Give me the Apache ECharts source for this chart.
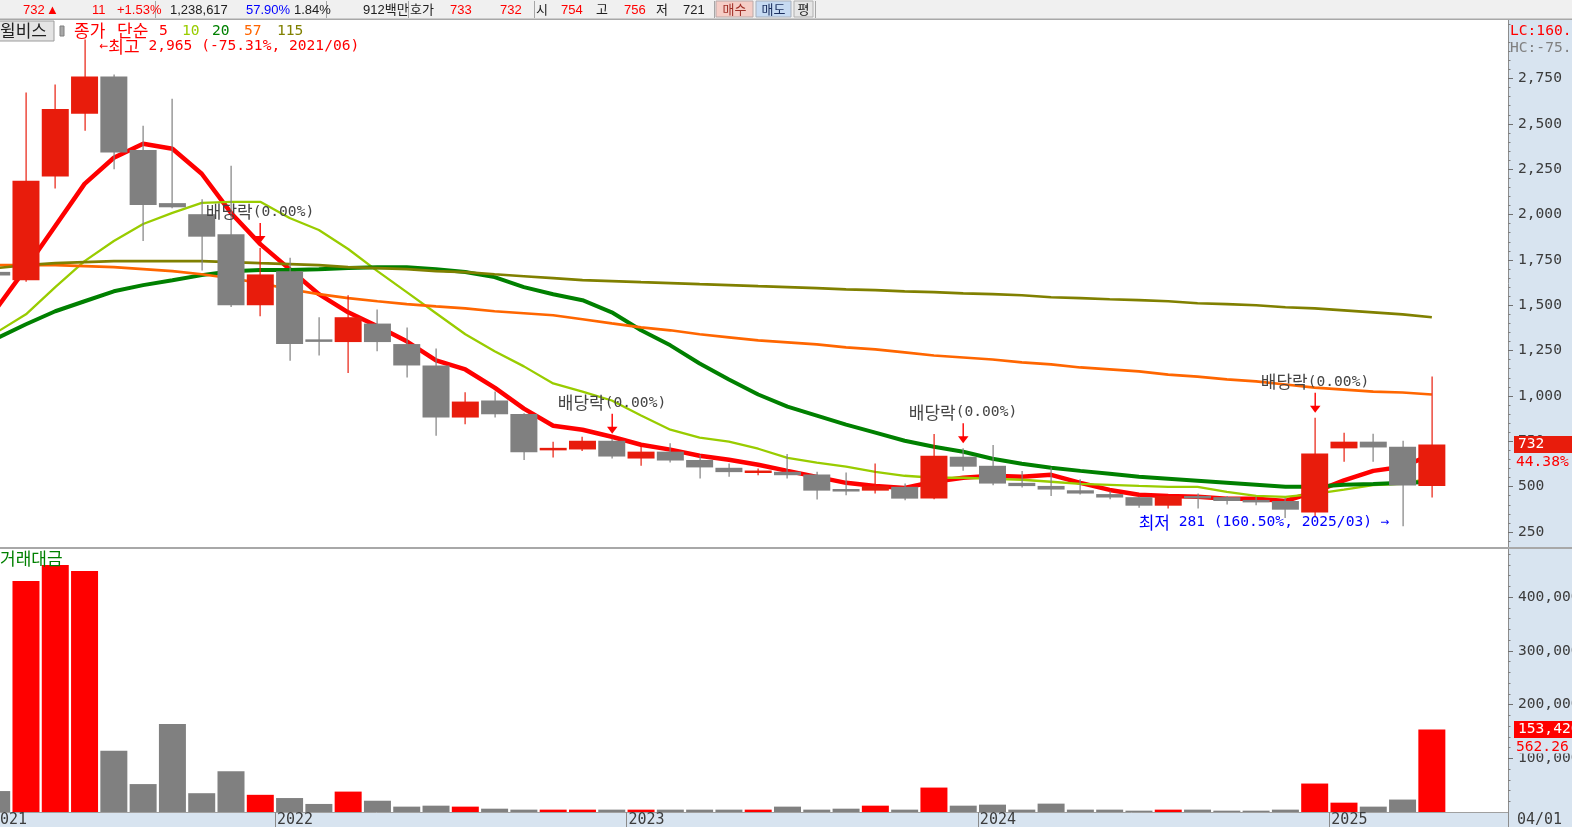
<!DOCTYPE html>
<html>
<head>
<meta charset="utf-8">
<script src="https://cdn.jsdelivr.net/npm/echarts@6.0.0/dist/echarts.min.js"></script>
<style>
html,body{margin:0;padding:0;background:#ffffff;overflow:hidden;}
#chart{width:1572px;height:827px;}
</style>
</head>
<body>
<div id="chart"></div>
<script>
// ---------------- DATA ----------------
const stockName = '윌비스';
const months = ['2021/03','2021/04','2021/05','2021/06','2021/07','2021/08','2021/09','2021/10','2021/11','2021/12',
 '2022/01','2022/02','2022/03','2022/04','2022/05','2022/06','2022/07','2022/08','2022/09','2022/10',
 '2022/11','2022/12','2023/01','2023/02','2023/03','2023/04','2023/05','2023/06','2023/07','2023/08',
 '2023/09','2023/10','2023/11','2023/12','2024/01','2024/02','2024/03','2024/04','2024/05','2024/06',
 '2024/07','2024/08','2024/09','2024/10','2024/11','2024/12','2025/01','2025/02','2025/03','2025/04'];
const openP = [1684,1638,2210,2555,2761,2356,2063,2002,1891,1500,
 1688,1310,1297,1399,1286,1168,881,975,901,705,
 705,753,655,693,647,604,578,582,567,482,
 478,499,434,665,615,521,504,480,459,442,
 395,444,442,422,421,357,711,748,720,503];
const closeP = [1664,2186,2582,2761,2342,2053,2040,1878,1500,1670,
 1286,1300,1434,1297,1168,881,969,899,689,709,
 753,666,693,644,606,580,586,563,478,478,
 503,434,670,610,517,503,484,462,440,395,
 449,440,421,418,373,683,748,716,507,732];
const highP = [1700,2673,2717,2965,2772,2490,2638,2085,2269,1816,
 1762,1434,1555,1476,1378,1261,1021,1024,905,748,
 775,764,720,739,675,628,600,680,582,578,
 628,517,790,711,730,586,606,541,475,446,
 452,462,449,444,438,880,797,792,753,1107];
const lowP = [1650,1630,2143,2462,2250,1854,2035,1692,1490,1439,
 1194,1223,1126,1246,1102,781,844,881,647,661,
 696,655,615,633,545,554,563,545,429,453,
 462,425,430,587,508,495,449,457,431,383,
 380,380,401,397,327,333,637,637,281,440];
const ma5 = [1483,1705,1937,2169,2313,2390,2363,2225,2009,1837,
 1699,1561,1461,1384,1301,1196,1146,1046,930,836,
 814,775,731,704,670,648,621,587,554,521,
 504,493,527,549,560,554,565,521,482,455,
 449,444,433,433,421,471,535,587,610,677];
const ma10 = [1351,1450,1600,1743,1854,1948,2009,2064,2070,2070,
 1981,1915,1810,1688,1572,1456,1340,1246,1163,1069,
 1024,975,892,814,770,748,709,659,632,610,
 582,560,549,549,543,538,527,515,510,504,
 499,499,471,449,444,460,483,508,515,549];
const ma20 = [1318,1395,1467,1522,1577,1611,1638,1666,1688,1694,
 1694,1699,1705,1710,1710,1699,1683,1655,1600,1561,
 1528,1461,1362,1279,1179,1091,1008,941,892,842,
 798,753,720,692,654,626,604,587,571,554,
 543,532,521,510,499,499,510,515,521,525];
const ma57 = [1721,1721,1721,1716,1710,1699,1688,1671,1649,1622,
 1588,1561,1539,1522,1506,1494,1483,1467,1456,1445,
 1423,1400,1378,1362,1340,1323,1306,1295,1284,1268,
 1257,1240,1223,1212,1201,1185,1174,1157,1146,1135,
 1118,1107,1091,1080,1063,1046,1035,1024,1019,1008];
const ma115 = [1705,1721,1732,1738,1743,1743,1743,1743,1738,1732,
 1727,1721,1710,1705,1699,1688,1683,1671,1660,1649,
 1638,1633,1627,1622,1616,1611,1605,1600,1594,1588,
 1583,1577,1572,1566,1561,1555,1544,1539,1533,1528,
 1522,1511,1506,1500,1489,1483,1472,1461,1450,1434];
const tradeValue = [39000,430000,460000,449000,114000,52000,164000,35000,76000,32000,
 26000,15000,38000,21000,10000,11800,10000,6200,4400,4400,
 4400,4400,4400,4400,4400,4400,4400,10000,4400,6200,
 11800,4400,45500,11800,13700,4400,15600,4400,4400,2500,
 4400,4400,2500,2500,4400,53000,17400,10000,23166,153420];
const priceTicks = [250,500,750,1000,1250,1500,1750,2000,2250,2500,2750];
const volumeTicks = [100000,200000,300000,400000];
const maPeriods = ['5','10','20','57','115'];
const dividendMonths = ['2021/12','2022/12','2023/12','2024/12'];
const dividendText = ['배당락','(0.00%)'];
const legendTitle = ['종가','단순'];
const volumeTitle = '거래대금';
const firstYearLabel = '2021';
const lastDateLabel = '04/01';
const toolbarTexts = ['732','▲','11','+1.53%','1,238,617','57.90%','1.84%','912백만','호가','733','732','시','754','고','756','저','721','매수','매도','평'];

// ---------------- LAYOUT / STYLE ----------------
const MONO = '"DejaVu Sans Mono", "Noto Sans CJK KR", monospace';
const KR = '"Noto Sans CJK KR", sans-serif';
const UI = '"Liberation Sans", "Noto Sans CJK KR", sans-serif';
const STRIP = '#d8e4f0';
const UPC = '#e81c0c', DNC = '#808080', VUP = '#ff0000', VDN = '#808080';
const maColors = ['#ff0000','#99cc00','#008000','#ff6600','#808000'];
const maWidths = [4.5, 2.3, 4, 2.7, 2.7];
const maSeries = [ma5, ma10, ma20, ma57, ma115];
const xMin = 0.113, xMax = 51.6;
const pMin = 167.3, pMax = 3072.5;
const vMax = 489800;
const N = months.length;
const fmt = v => Math.round(v).toLocaleString('en-US');

const yearBounds = [], yearLabels = [];
months.forEach((m, i) => { if (m.endsWith('/01')) { yearBounds.push(i - 0.5); yearLabels.push(m.slice(0, 4)); } });
const minorPrice = []; for (let v = 200; v <= 3050; v += 50) if (v % 250) minorPrice.push(v);
const minorVol = []; for (let v = 20000; v <= 480000; v += 20000) if (v % 100000) minorVol.push(v);

const lastClose = closeP[N - 1];
const iMax = highP.indexOf(Math.max(...highP));
const iMin = lowP.indexOf(Math.min(...lowP));
const hcPct = (lastClose / highP[iMax] - 1) * 100;
const lcPct = (lastClose / lowP[iMin] - 1) * 100;
const chgPct = (lastClose / closeP[N - 2] - 1) * 100;
const volPct = (tradeValue[N - 1] / tradeValue[N - 2] - 1) * 100;

function renderCandle(params, api) {
  const i = api.value(0), o = api.value(1), c = api.value(2), l = api.value(3), h = api.value(4);
  const col = c >= o ? UPC : DNC;
  const pO = api.coord([i, o]), pC = api.coord([i, c]), pL = api.coord([i, l]), pH = api.coord([i, h]);
  const x = pO[0], w = 27;
  let top = Math.min(pO[1], pC[1]), bot = Math.max(pO[1], pC[1]);
  if (bot - top < 2.5) { const m = (top + bot) / 2; top = m - 1.25; bot = m + 1.25; }
  return { type: 'group', children: [
    { type: 'rect', shape: { x: Math.round(x) - 0.5, y: pH[1], width: 1.2, height: pL[1] - pH[1] }, style: { fill: col } },
    { type: 'rect', shape: { x: x - w / 2, y: top, width: w, height: bot - top }, style: { fill: col } }
  ]};
}
function renderVolume(params, api) {
  const i = api.value(0), v = api.value(1);
  const p = api.coord([i, v]), b = api.coord([i, 0]);
  const up = closeP[i] >= openP[i];
  return { type: 'rect', shape: { x: p[0] - 13.5, y: p[1], width: 27, height: Math.max(1, b[1] - p[1]) }, style: { fill: up ? VUP : VDN } };
}
function renderDividend(params, api) {
  const p = api.coord([api.value(0), api.value(1)]);
  const x = Math.round(p[0]), y = p[1];
  return { type: 'group', children: [
    { type: 'text', x: x, y: y - 36, style: { text: '{k|' + dividendText[0] + '}{n|' + dividendText[1] + '}', align: 'center', verticalAlign: 'middle',
      rich: { k: { fontFamily: KR, fontSize: 17, fill: '#454545' }, n: { fontFamily: MONO, fontSize: 14.6, fill: '#454545' } } } },
    { type: 'rect', shape: { x: x - 0.5, y: y - 25, width: 1.4, height: 14 }, style: { fill: '#ff0000' } },
    { type: 'polygon', shape: { points: [[x - 5, y - 12], [x + 5.5, y - 12], [x + 0.2, y - 5]] }, style: { fill: '#ff0000' } }
  ]};
}
function renderExtreme(params, api) {
  const p = api.coord([api.value(0), api.value(1)]);
  const kind = api.value(2);
  if (kind === 0) {
    return { type: 'text', x: p[0] + 15, y: p[1] + 7, style: {
      text: '{n|←}{k|최고}{n| ' + fmt(highP[iMax]) + ' (' + hcPct.toFixed(2) + '%, ' + months[iMax] + ')}',
      align: 'left', verticalAlign: 'middle',
      rich: { k: { fontFamily: KR, fontSize: 17, fill: '#ff0000' }, n: { fontFamily: MONO, fontSize: 14.6, fill: '#ff0000' } } } };
  }
  return { type: 'text', x: p[0] - 13, y: p[1] - 4, style: {
    text: '{k|최저}{n| ' + fmt(lowP[iMin]) + ' (' + lcPct.toFixed(2) + '%, ' + months[iMin] + ') →}',
    align: 'right', verticalAlign: 'middle',
    rich: { k: { fontFamily: KR, fontSize: 17, fill: '#0000ff' }, n: { fontFamily: MONO, fontSize: 14.6, fill: '#0000ff' } } } };
}

const series = [];
maSeries.forEach((arr, k) => {
  series.push({ type: 'line', name: 'MA' + maPeriods[k], xAxisIndex: 0, yAxisIndex: 0, data: arr.map((v, i) => [i, v]),
    showSymbol: false, symbol: 'none', silent: true, clip: true, z: 2,
    lineStyle: { color: maColors[k], width: maWidths[k] } });
});
series.push({ type: 'custom', name: 'candle', xAxisIndex: 0, yAxisIndex: 0, clip: true, z: 3,
  data: months.map((m, i) => [i, openP[i], closeP[i], lowP[i], highP[i]]),
  encode: { x: 0, y: [1, 2, 3, 4] }, renderItem: renderCandle });
series.push({ type: 'custom', name: 'dividend', xAxisIndex: 0, yAxisIndex: 0, clip: false, z: 5,
  data: dividendMonths.map(m => { const i = months.indexOf(m); return [i, highP[i]]; }),
  encode: { x: 0, y: 1 }, renderItem: renderDividend });
series.push({ type: 'custom', name: 'extremes', xAxisIndex: 0, yAxisIndex: 0, clip: false, z: 5,
  data: [[iMax, highP[iMax], 0], [iMin, lowP[iMin], 1]],
  encode: { x: 0, y: 1 }, renderItem: renderExtreme });
series.push({ type: 'custom', name: 'tradeValue', xAxisIndex: 1, yAxisIndex: 2, clip: true, z: 3,
  data: tradeValue.map((v, i) => [i, v]), encode: { x: 0, y: 1 }, renderItem: renderVolume });

const axisLabelStyle = { color: '#3c3c3c', fontFamily: MONO, fontSize: 14.6 };
const option = {
  animation: false,
  backgroundColor: '#ffffff',
  grid: [{ left: 0, top: 20, width: 1508, height: 527, outerBoundsMode: 'none', containLabel: false },
         { left: 0, top: 549, width: 1508, height: 263, outerBoundsMode: 'none', containLabel: false }],
  xAxis: [
    { gridIndex: 0, type: 'value', min: xMin, max: xMax, show: false },
    { gridIndex: 1, type: 'value', min: xMin, max: xMax,
      axisLine: { show: true, onZero: false, lineStyle: { color: '#a0a0a0', width: 1 } },
      axisTick: { show: true, customValues: yearBounds, length: 15, lineStyle: { color: '#8a8a8a' } },
      axisLabel: { show: true, customValues: yearBounds, formatter: v => yearLabels[yearBounds.indexOf(v)] || '',
        align: 'left', margin: 1, padding: [0, 0, 0, 2], color: '#3c3c3c', fontFamily: MONO, fontSize: 15 },
      splitLine: { show: false } }
  ],
  yAxis: [
    { gridIndex: 0, type: 'value', position: 'right', min: pMin, max: pMax,
      axisLine: { show: true, lineStyle: { color: '#8c8c8c' } },
      axisTick: { show: true, customValues: priceTicks, length: 5, lineStyle: { color: '#707070' } },
      axisLabel: Object.assign({ customValues: priceTicks, formatter: fmt, margin: 10 }, axisLabelStyle),
      splitLine: { show: false } },
    { gridIndex: 0, type: 'value', position: 'right', min: pMin, max: pMax,
      axisLine: { show: false }, axisTick: { show: true, customValues: minorPrice, length: 2.5, lineStyle: { color: '#808080' } },
      axisLabel: { show: false }, splitLine: { show: false } },
    { gridIndex: 1, type: 'value', position: 'right', min: 0, max: vMax,
      axisLine: { show: true, lineStyle: { color: '#8c8c8c' } },
      axisTick: { show: true, customValues: volumeTicks, length: 5, lineStyle: { color: '#707070' } },
      axisLabel: Object.assign({ customValues: volumeTicks, formatter: fmt, margin: 10 }, axisLabelStyle),
      splitLine: { show: false } },
    { gridIndex: 1, type: 'value', position: 'right', min: 0, max: vMax,
      axisLine: { show: false }, axisTick: { show: true, customValues: minorVol, length: 2.5, lineStyle: { color: '#808080' } },
      axisLabel: { show: false }, splitLine: { show: false } }
  ],
  series: series
};
// candles drawn above the moving-average lines
series.forEach(s => { if (s.name === 'candle') s.z = 4; });

const chart = echarts.init(document.getElementById('chart'), null, { renderer: 'canvas' });
chart.setOption(option);

// ---------------- decorations (frame, legend, toolbar) ----------------
const yClose = chart.convertToPixel({ yAxisIndex: 0 }, lastClose);
const yVol = chart.convertToPixel({ yAxisIndex: 2 }, tradeValue[N - 1]);
const G = [];
const txt = (text, x, y, fill, font, align, extra) => Object.assign({ type: 'text', x: x, y: y, z: 20,
  style: Object.assign({ text: text, fill: fill, font: font, align: align || 'left', verticalAlign: 'middle' }, extra || {}) });
// strips
G.push({ type: 'rect', z: -10, shape: { x: 1508.5, y: 20, width: 64, height: 807 }, style: { fill: STRIP } });
G.push({ type: 'rect', z: -10, shape: { x: 0, y: 812, width: 1572, height: 15 }, style: { fill: STRIP } });
G.push({ type: 'rect', z: 10, shape: { x: 1508, y: 812, width: 1, height: 15 }, style: { fill: '#8c8c8c' } });
G.push({ type: 'rect', z: 10, shape: { x: 0, y: 547, width: 1572, height: 2 }, style: { fill: '#a8a8a8' } });
// toolbar
G.push({ type: 'rect', z: 8, shape: { x: 0, y: 0, width: 1572, height: 19 }, style: { fill: '#f0f0f0' } });
G.push({ type: 'rect', z: 9, shape: { x: 0, y: 18.5, width: 1572, height: 1.5 }, style: { fill: '#a8a8a8' } });
[155, 326, 408, 534, 714, 815].forEach(x => G.push({ type: 'rect', z: 9, shape: { x: x, y: 1, width: 1, height: 17 }, style: { fill: '#a6a6a6' } }));
G.push({ type: 'rect', z: 9, shape: { x: 716, y: 1, width: 37, height: 16 }, style: { fill: '#f5cdc6', stroke: '#b8a8a8' } });
G.push({ type: 'rect', z: 9, shape: { x: 756, y: 1, width: 35, height: 16 }, style: { fill: '#c6daf2', stroke: '#a8b0bc' } });
G.push({ type: 'rect', z: 9, shape: { x: 794, y: 1, width: 19, height: 16 }, style: { fill: '#e6e6e6', stroke: '#b0b0b0' } });
const tbX = [23, 46, 92, 117, 170, 246, 294, 363, 410, 450, 500, 536, 561, 596, 624, 656, 683, 734.5, 773.5, 803.5];
const tbC = ['#ff0000','#ff0000','#ff0000','#ff0000','#202020','#0000ff','#202020','#202020','#202020','#ff0000','#ff0000',
  '#202020','#ff0000','#202020','#ff0000','#202020','#202020','#a03028','#1c3060','#202020'];
toolbarTexts.forEach((t, k) => G.push(txt(t, tbX[k], 10, tbC[k], '13px ' + UI, k >= 17 ? 'center' : 'left')));
// legend
G.push({ type: 'rect', z: 19, shape: { x: -2, y: 21, width: 56, height: 20 }, style: { fill: '#e4e4e4', stroke: '#9c9c9c' } });
G.push(txt(stockName, 0, 31, '#202020', '17px ' + KR));
G.push({ type: 'rect', z: 19, shape: { x: 60, y: 26, width: 4, height: 10 }, style: { fill: '#a8a8a8', stroke: '#808080' } });
G.push(txt(legendTitle[0], 74, 31, '#ff0000', '17px ' + KR));
G.push(txt(legendTitle[1], 117, 31, '#ff0000', '17px ' + KR));
const lgX = [159, 182, 212, 244, 277];
maPeriods.forEach((p, k) => G.push(txt(p, lgX[k], 31, maColors[k], '14.6px ' + MONO)));
G.push(txt(volumeTitle, 0, 559, '#008000', '17px ' + KR));
// right axis texts
G.push(txt('LC:' + lcPct.toFixed(2) + '%', 1510, 31, '#ff0000', '14.6px ' + MONO));
G.push(txt('HC:' + hcPct.toFixed(2) + '%', 1510, 48, '#808080', '14.6px ' + MONO));
G.push({ type: 'rect', z: 19, shape: { x: 1514, y: yClose - 8.5, width: 60, height: 17 }, style: { fill: UPC } });
G.push(txt(fmt(lastClose), 1518, yClose, '#ffffff', '14.6px ' + MONO));
G.push(txt(chgPct.toFixed(2) + '%', 1516, yClose + 18, '#ff0000', '14.6px ' + MONO));
G.push({ type: 'rect', z: 19, shape: { x: 1514, y: yVol - 8.5, width: 60, height: 17 }, style: { fill: '#ff0000' } });
G.push(txt(fmt(tradeValue[N - 1]), 1518, yVol, '#ffffff', '14.6px ' + MONO));
G.push({ type: 'rect', z: 19, shape: { x: 1512, y: yVol + 10, width: 60, height: 14 }, style: { fill: STRIP } });
G.push(txt(volPct.toFixed(2), 1516, yVol + 17.5, '#ff0000', '14.6px ' + MONO));
G.push(txt(lastDateLabel, 1517, 820, '#3c3c3c', '15px ' + MONO));
G.push(txt(firstYearLabel, -9, 820, '#3c3c3c', '15px ' + MONO));
chart.setOption({ graphic: G });
</script>
</body>
</html>
